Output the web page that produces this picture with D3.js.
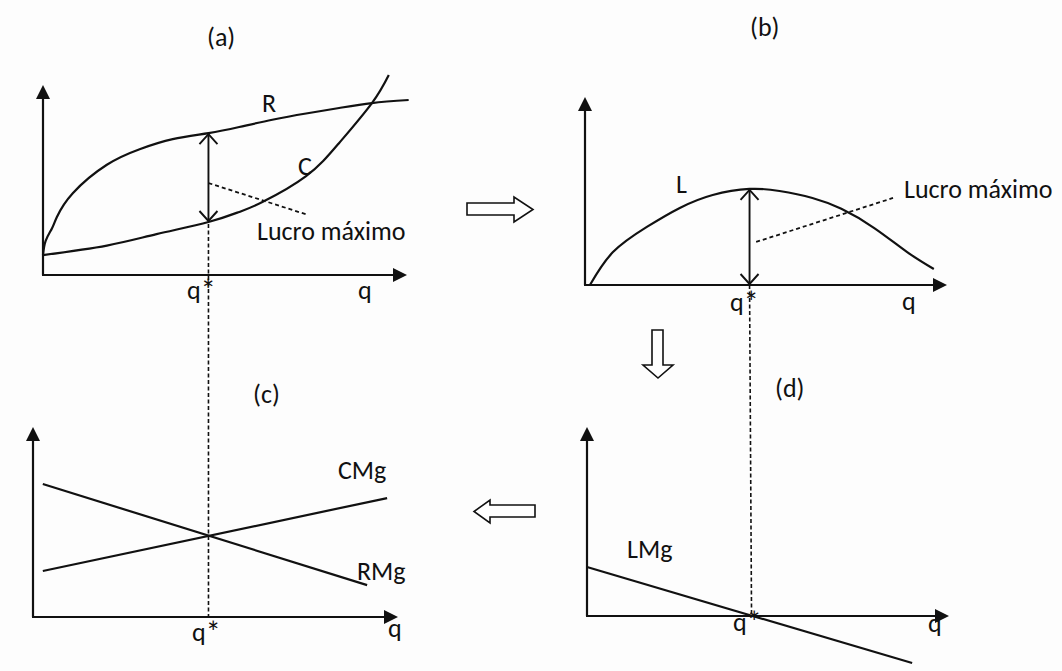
<!DOCTYPE html>
<html>
<head>
<meta charset="utf-8">
<script src="https://cdn.jsdelivr.net/npm/d3@7/dist/d3.min.js"></script>
<style>
  html, body { margin: 0; padding: 0; background: #fdfdfd; }
  svg { display: block; }
  text { font-family: Carlito, Calibri, Lato, "Open Sans", sans-serif; font-size: 26px; fill: #111; }
</style>
</head>
<body>
<svg id="chart" width="1062" height="671"></svg>
<script>
// ---------------- DATA ----------------
const qStar = 5;
const panelIds = ["a", "b", "c", "d"];
const panelTitles = ["(a)", "(b)", "(c)", "(d)"];
const qAxisMax = [11, 11, 10.4, 11];   // length of each q axis, in q units
const vAxisMax = [10, 10, 10, 10];     // length of each value axis

// (a) total revenue R and total cost C
const revenueR = [[0, 1.05], [0.08, 1.8], [0.27, 2.45], [0.42, 3.05], [0.9, 4.3], [1.93, 5.8], [2.92, 6.62],
                  [3.92, 7.15], [5, 7.47], [5.93, 7.79], [6.93, 8.17], [7.95, 8.5], [8.95, 8.79], [9.94, 9.05], [11.05, 9.21]];
const costC = [[0, 1.05], [1.93, 1.55], [3.43, 2.15], [5, 2.79], [5.93, 3.32], [6.63, 3.84], [7.95, 5.2],
               [8.95, 6.95], [9.94, 9.05], [10.45, 10.53]];
const leaderA = [[5, 4.84], [8.01, 3.16]];

// (b) profit L
const profitL = [[0.15, 0], [0.85, 1.75], [1.88, 3.09], [2.88, 4.1], [3.88, 4.79], [5, 5.11], [5.91, 5.0],
                 [6.91, 4.63], [7.79, 4.05], [8.79, 3.03], [9.79, 1.75], [10.6, 0.85]];
const leaderB = [[5.2, 2.29], [9.36, 4.63]];

// (c) marginal revenue and marginal cost
const marginalRevenue = [[0.28, 7.0], [9.52, 1.68]];
const marginalCost = [[0.28, 2.42], [10.09, 6.26]];

// (d) marginal profit
const marginalProfit = [[0, 2.59], [9.88, -2.49]];

const curveLabels = ["R", "C", "L", "CMg", "RMg", "LMg"];
const annotationText = "Lucro máximo";
const axisLabel = "q";
const starLabel = ["q", "*"];

// ---------------- LAYOUT ----------------
const svg = d3.select("#chart");
svg.append("rect").attr("width", 1062).attr("height", 671).attr("fill", "#fdfdfd");

const frames = {
  a: { ox: 43,  oy: 275, xe: 407, ye: 85 },
  b: { ox: 585, oy: 285, xe: 947, ye: 97 },
  c: { ox: 33,  oy: 617, xe: 398, ye: 427 },
  d: { ox: 587, oy: 616, xe: 949, ye: 427 }
};
const S = {};
panelIds.forEach((id, i) => {
  const f = frames[id];
  S[id] = {
    x: d3.scaleLinear().domain([0, qAxisMax[i]]).range([f.ox, f.xe]),
    y: d3.scaleLinear().domain([0, vAxisMax[i]]).range([f.oy, f.ye]),
    i: i
  };
});

const ink = "#111";
const W = 2.2;
const g = svg.append("g");

// axes with solid arrowheads
function axes(id) {
  const s = S[id], i = s.i;
  const x0 = s.x(0), y0 = s.y(0), xe = s.x(qAxisMax[i]), ye = s.y(vAxisMax[i]);
  g.append("line").attr("x1", x0 - 1).attr("y1", y0).attr("x2", xe - 10).attr("y2", y0)
    .attr("stroke", ink).attr("stroke-width", W);
  g.append("line").attr("x1", x0).attr("y1", y0).attr("x2", x0).attr("y2", ye + 10)
    .attr("stroke", ink).attr("stroke-width", W);
  g.append("path").attr("d", `M${xe},${y0} L${xe - 14},${y0 - 7} L${xe - 14},${y0 + 7} Z`).attr("fill", ink);
  g.append("path").attr("d", `M${x0},${ye} L${x0 - 7},${ye + 14} L${x0 + 7},${ye + 14} Z`).attr("fill", ink);
}
panelIds.forEach(axes);

function curve(id, data, kind) {
  const s = S[id];
  const line = d3.line().x(d => s.x(d[0])).y(d => s.y(d[1]))
    .curve(kind === "smooth" ? d3.curveNatural : d3.curveLinear);
  return g.append("path").datum(data).attr("d", line).attr("fill", "none")
    .attr("stroke", ink).attr("stroke-width", W).attr("stroke-linejoin", "round");
}
curve("a", revenueR, "smooth");
curve("a", costC, "smooth");
curve("b", profitL, "smooth");
curve("c", marginalRevenue);
curve("c", marginalCost);
curve("d", marginalProfit);

// leader (dashed) lines
curve("a", leaderA).attr("stroke-width", 1.8).attr("stroke-dasharray", "4,3");
curve("b", leaderB).attr("stroke-width", 1.8).attr("stroke-dasharray", "4,3");

// double-headed arrows at q*
function valueAt(data, q) {
  for (let k = 0; k < data.length - 1; k++) {
    if (q >= data[k][0] && q <= data[k + 1][0]) {
      const t = (q - data[k][0]) / (data[k + 1][0] - data[k][0]);
      return data[k][1] + t * (data[k + 1][1] - data[k][1]);
    }
  }
  return data[data.length - 1][1];
}
function doubleArrow(id, vLow, vHigh) {
  const s = S[id];
  const x = s.x(qStar), yTop = s.y(vHigh), yBot = s.y(vLow);
  g.append("line").attr("x1", x).attr("y1", yTop + 1).attr("x2", x).attr("y2", yBot - 1)
    .attr("stroke", ink).attr("stroke-width", 1.9);
  g.append("path").attr("d", `M${x - 9},${yTop + 11} L${x},${yTop + 1} L${x + 9},${yTop + 11}`)
    .attr("fill", "none").attr("stroke", ink).attr("stroke-width", 1.9);
  g.append("path").attr("d", `M${x - 9},${yBot - 11} L${x},${yBot - 1} L${x + 9},${yBot - 11}`)
    .attr("fill", "none").attr("stroke", ink).attr("stroke-width", 1.9);
}
doubleArrow("a", valueAt(costC, qStar), valueAt(revenueR, qStar));
doubleArrow("b", 0, valueAt(profitL, qStar));

// dotted q* guides across panels
g.append("line")
  .attr("x1", S.a.x(qStar)).attr("y1", S.a.y(valueAt(costC, qStar)) + 2)
  .attr("x2", S.c.x(qStar)).attr("y2", S.c.y(0))
  .attr("stroke", ink).attr("stroke-width", 1.6).attr("stroke-dasharray", "4,2.5");
g.append("line")
  .attr("x1", S.b.x(qStar)).attr("y1", S.b.y(0))
  .attr("x2", S.d.x(qStar)).attr("y2", S.d.y(0))
  .attr("stroke", ink).attr("stroke-width", 1.6).attr("stroke-dasharray", "4,2.5");

// hollow block arrows between panels
const blockArrows = [
  "M467,203 L514,203 L514,197 L533,209.5 L514,222 L514,215 L467,215 Z",
  "M652,330 L663,330 L663,365 L673,365 L658,378 L643,365 L652,365 Z",
  "M535,505 L490,505 L490,500 L474,511.5 L490,523 L490,517 L535,517 Z"
];
blockArrows.forEach(d => g.append("path").attr("d", d).attr("fill", "#fff")
  .attr("stroke", ink).attr("stroke-width", 1.6).attr("stroke-linejoin", "miter"));

// ---------------- TEXT ----------------
const texts = [
  [panelTitles[0], 207, 46], [panelTitles[1], 750, 36], [panelTitles[2], 253, 403], [panelTitles[3], 775, 397],
  [curveLabels[0], 262, 112], [curveLabels[1], 298, 175], [curveLabels[2], 676, 193],
  [curveLabels[3], 338, 479], [curveLabels[4], 357, 580], [curveLabels[5], 627, 558],
  [annotationText, 257, 240], [annotationText, 904, 198],
  [axisLabel, 358, 299], [axisLabel, 902, 310], [axisLabel, 388, 637], [axisLabel, 928, 632]
];
texts.forEach(t => svg.append("text").attr("x", t[1]).attr("y", t[2]).text(t[0]));

const stars = [[187, 299], [730, 311], [192, 641], [733, 631]];
stars.forEach(p => {
  const t = svg.append("text").attr("x", p[0]).attr("y", p[1]);
  t.append("tspan").text(starLabel[0]);
  t.append("tspan").attr("font-size", "30px").attr("dy", 2).text(starLabel[1]);
});
</script>
</body>
</html>
